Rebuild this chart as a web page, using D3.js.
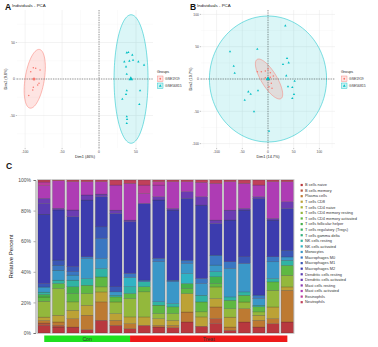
<!DOCTYPE html>
<html>
<head>
<meta charset="utf-8">
<script src="https://cdn.jsdelivr.net/npm/d3@7"></script>
<style>
  html, body { margin: 0; padding: 0; background: #fff; }
  svg { display: block; }
</style>
</head>
<body>
<script>
// ---- PCA data ----
const groupNames = ["GSE1919", "GSE56815"];
const groupColors = ["#F8766D", "#00BFC4"];

// panel A
const aRedX = [-88.9, -85.7, -92.4, -79.8, -81.2, -83.0, -88.9, -89.7, -95.1];
const aRedY = [15.4, 14.6, 10.0, 12.3, -5.9, -8.2, -11.4, -15.0, -22.7];
const aCyanX = [37.5, 39.6, 45.0, 34.2, 41.0, 46.0, 53.2, 60.9, 36.5, 37.5, 37.5, 55.5, 36.5, 31.5, 54.5, 37.5, 37.9, 37.5];
const aCyanY = [36.0, 36.6, 32.9, 23.7, 24.7, 26.0, 23.7, 19.2, 16.8, 6.8, -16.0, -16.0, -21.0, -27.4, -34.7, -51.6, -55.2, -60.7];
const aMeans = [[-88, 0], [43, 0]];
// ellipse: centre x, centre y, semi-axis a, semi-axis b, angle (deg)
const aEllipses = [[-87, 0.3, 40.7, 13, 81], [43.3, 0, 88, 23, 90]];

// panel B
const bRedX = [-20.8, -13.0, -5.2, 4.5, 10.3, 4.5, -5.2, 6.4, 7.8, 1.9, 0.0];
const bRedY = [11.3, 11.3, 12.4, 9.8, 4.6, 2.6, 2.0, -6.7, -14.4, -11.9, 15.5];
const bCyanX = [33.7, -73.9, -20.8, -66.7, -64.8, 37.0, 40.3, 29.2, 35.6, 51.9, 38.9, 47.3, 50.6, 47.3, -38.3, -33.7, -19.5, -45.3, -27.2, 2.0];
const bCyanY = [82.5, 42.3, 46.4, 20.1, 9.3, 32.0, 25.2, 22.7, 5.1, -3.1, -11.9, -12.8, -23.7, -29.9, -19.7, -23.2, -18.1, -32.5, -50.6, -80.5];
const bMeans = [[1, 0], [0, 0]];
const bEllipses = [[2, 0, 38.3, 14, -50.7], [0, 0, 114, 97.5, 0]];

// ---- immune cell fractions, 18 samples ----
const groups = ["Con", "Con", "Con", "Con", "Con", "Con", "Con",
  "Treat", "Treat", "Treat", "Treat", "Treat", "Treat", "Treat", "Treat", "Treat", "Treat", "Treat"];
const cellTypes = ["B cells naive", "B cells memory", "Plasma cells", "T cells CD8", "T cells CD4 naive",
  "T cells CD4 memory resting", "T cells CD4 memory activated", "T cells follicular helper",
  "T cells regulatory (Tregs)", "T cells gamma delta", "NK cells resting", "NK cells activated",
  "Monocytes", "Macrophages M0", "Macrophages M1", "Macrophages M2", "Dendritic cells resting",
  "Dendritic cells activated", "Mast cells resting", "Mast cells activated", "Eosinophils", "Neutrophils"];
const cellColors = ["#b8383e", "#b8543a", "#bd7a32", "#bca236", "#a9b236", "#93b83c", "#5fb842", "#45b04a",
  "#3cb062", "#35b07e", "#30b3a4", "#30b3c4", "#3a97c8", "#3a77c2", "#3a57b6", "#3c3cae", "#5a3cb2",
  "#6b3cb2", "#8a3cb4", "#ae3cb4", "#bc3c9c", "#c0405a"];

const bNaive   = [5.0, 3.9, 3.9, 2.2, 8.3, 5.0, 2.8, 5.0, 3.9, 3.5, 7.2, 4.4, 6.1, 1.7, 7.2, 3.9, 6.1, 7.2];
const bMemory  = [1.5, 1.1, 0, 0, 0, 0, 0, 0, 0, 0, 0, 0, 3.3, 0, 0, 0, 0, 0];
const plasma   = [1.7, 2.2, 5.5, 9.4, 12.0, 3.3, 3.3, 0, 1.1, 1.5, 6.5, 0, 7.6, 2.2, 8.7, 4.4, 3.3, 20.7];
const tCD8     = [2.2, 4.4, 5.5, 6.5, 6.5, 4.4, 4.4, 5.5, 4.4, 3.3, 12.0, 6.1, 5.5, 6.5, 0, 3.3, 7.6, 2.2];
const cd4Naive = [0, 0, 0, 0, 0, 0, 0, 0, 0, 0, 0, 0, 0, 0, 0, 0, 0, 0];
const cd4Rest  = [10.3, 17.5, 5.5, 7.6, 3.3, 7.6, 12.0, 16.4, 3.3, 4.4, 0, 3.3, 7.6, 5.5, 4.4, 2.2, 10.9, 7.6];
const cd4Act   = [2.8, 3.3, 5.5, 5.5, 6.5, 3.3, 3.3, 3.3, 5.5, 4.4, 3.3, 6.5, 2.2, 5.5, 4.4, 3.3, 5.5, 6.5];
const tfh      = [1.7, 0, 4.4, 0, 0, 0, 0, 0, 0, 0, 3.3, 0, 4.4, 0, 0, 0, 0, 0];
const tregs    = [0, 0, 0, 0, 0, 0, 0, 0, 0, 0, 0, 0, 0, 0, 0, 0, 0, 0];
const gammaD   = [0, 0, 0, 0, 0, 0, 0, 0, 0, 0, 0, 0, 0, 0, 0, 0, 0, 0];
const nkRest   = [1.5, 2.2, 4.4, 4.4, 5.5, 1.1, 4.4, 3.3, 2.2, 2.2, 0, 4.4, 3.3, 2.2, 2.2, 1.1, 2.2, 3.3];
const nkAct    = [0, 0, 0, 0, 0, 0, 6.1, 0, 0, 0, 6.5, 0, 0, 0, 0, 0, 0, 0];
const mono     = [3.3, 6.5, 3.3, 13.1, 6.5, 2.2, 0, 0, 26.2, 14.2, 6.5, 7.6, 4.4, 18.6, 18.6, 4.4, 10.9, 2.2];
const macM0    = [0, 3.3, 2.2, 1.1, 13.1, 0, 2.6, 1.1, 2.2, 1.1, 2.2, 3.3, 6.5, 4.4, 0, 2.2, 3.3, 0];
const macM1    = [2.2, 3.3, 3.3, 0, 7.6, 3.3, 0, 0, 0, 0, 0, 0, 0, 0, 4.4, 0, 0, 4.4];
const macM2    = [45.4, 32.8, 32.8, 37.1, 19.7, 48.0, 33.8, 50.2, 38.2, 45.9, 40.4, 48.0, 20.7, 27.3, 30.6, 63.3, 24.0, 27.3];
const dcRest   = [7.0, 0, 0, 0, 0, 0, 0, 0, 0, 0, 0, 0, 0, 0, 0, 0, 0, 0];
const dcAct    = [3.3, 1.1, 4.4, 3.3, 1.7, 2.2, 1.1, 0, 2.2, 1.1, 4.4, 5.5, 2.2, 6.5, 1.1, 1.1, 1.1, 4.4];
const mastRest = [0, 0, 0, 0, 0, 0, 0, 0, 0, 0, 0, 0, 0, 0, 0, 0, 0, 0];
const mastAct  = [8.3, 18.0, 18.6, 8.7, 8.1, 16.4, 24.0, 6.5, 7.6, 17.5, 6.5, 9.4, 24.0, 18.6, 16.4, 7.6, 24.0, 13.1];
const eosin    = [2.4, 0, 0, 0, 0, 0, 0, 5.5, 2.2, 0, 0, 0, 0, 0, 0, 0, 0, 0];
const neutro   = [1.3, 0.5, 1.1, 1.1, 1.1, 3.3, 2.2, 3.3, 1.1, 1.1, 1.1, 1.5, 2.2, 1.1, 2.2, 3.3, 1.1, 1.1];

const cellSeries = [bNaive, bMemory, plasma, tCD8, cd4Naive, cd4Rest, cd4Act, tfh, tregs, gammaD,
  nkRest, nkAct, mono, macM0, macM1, macM2, dcRest, dcAct, mastRest, mastAct, eosin, neutro];

const yTicksC = [0, 0.2, 0.4, 0.6, 0.8, 1];

// ---- svg ----
const W = 378, H = 347;
const FONT = "'Liberation Sans', Arial, sans-serif";
const svg = d3.select("body").append("svg")
  .attr("width", W).attr("height", H)
  .style("font-family", FONT);

function ellipsePath(sx, sy, e) {
  const [cx, cy, a, b, ang] = e;
  const r = ang * Math.PI / 180;
  const pts = d3.range(0, 361, 3).map(t => {
    const u = t * Math.PI / 180;
    const ux = a * Math.cos(u), uy = b * Math.sin(u);
    return [sx(cx + ux * Math.cos(r) - uy * Math.sin(r)), sy(cy + ux * Math.sin(r) + uy * Math.cos(r))];
  });
  return d3.line()(pts) + "Z";
}

const tri = s => d3.symbol().type(d3.symbolTriangle).size(s)();

function drawPCA(cfg) {
  const { id, x, y, xMajor, xMinor, yMajor, yMinor, redX, redY, cyanX, cyanY, means, ellipses } = cfg;
  const [x0, x1] = x.range(), [y1, y0] = y.range();
  const g = svg.append("g");

  g.append("clipPath").attr("id", "clip" + id)
    .append("rect").attr("x", x0).attr("y", y0).attr("width", x1 - x0).attr("height", y1 - y0);

  // grid
  const grid = g.append("g");
  grid.selectAll(".vmin").data(xMinor).join("line")
    .attr("x1", d => x(d)).attr("x2", d => x(d)).attr("y1", y0).attr("y2", y1)
    .attr("stroke", "#f2f2f2").attr("stroke-width", 0.3);
  grid.selectAll(".hmin").data(yMinor).join("line")
    .attr("y1", d => y(d)).attr("y2", d => y(d)).attr("x1", x0).attr("x2", x1)
    .attr("stroke", "#f2f2f2").attr("stroke-width", 0.3);
  grid.selectAll(".vmaj").data(xMajor).join("line")
    .attr("x1", d => x(d)).attr("x2", d => x(d)).attr("y1", y0).attr("y2", y1)
    .attr("stroke", "#e6e6e6").attr("stroke-width", 0.5);
  grid.selectAll(".hmaj").data(yMajor).join("line")
    .attr("y1", d => y(d)).attr("y2", d => y(d)).attr("x1", x0).attr("x2", x1)
    .attr("stroke", "#e6e6e6").attr("stroke-width", 0.5);

  const plot = g.append("g").attr("clip-path", `url(#clip${id})`);

  // ellipses (cyan below, red above)
  [1, 0].forEach(k => {
    plot.append("path")
      .attr("d", ellipsePath(x, y, ellipses[k]))
      .attr("fill", groupColors[k]).attr("fill-opacity", k ? 0.14 : 0.2)
      .attr("stroke", groupColors[k]).attr("stroke-width", 0.5);
  });

  // zero lines
  plot.append("line").attr("x1", x(0)).attr("x2", x(0)).attr("y1", y0).attr("y2", y1)
    .attr("stroke", "#222").attr("stroke-width", 0.45).attr("stroke-dasharray", "1.3,1.1");
  plot.append("line").attr("y1", y(0)).attr("y2", y(0)).attr("x1", x0).attr("x2", x1)
    .attr("stroke", "#222").attr("stroke-width", 0.45).attr("stroke-dasharray", "1.3,1.1");

  // points
  plot.selectAll(".rp").data(d3.zip(redX, redY)).join("circle")
    .attr("cx", d => x(d[0])).attr("cy", d => y(d[1])).attr("r", 0.75)
    .attr("fill", groupColors[0]);
  plot.selectAll(".cp").data(d3.zip(cyanX, cyanY)).join("path")
    .attr("d", tri(2.4)).attr("transform", d => `translate(${x(d[0])},${y(d[1])})`)
    .attr("fill", groupColors[1]);
  plot.append("circle").attr("cx", x(means[0][0])).attr("cy", y(means[0][1])).attr("r", 1.5)
    .attr("fill", groupColors[0]);
  plot.append("path").attr("d", tri(9)).attr("transform", `translate(${x(means[1][0])},${y(means[1][1])})`)
    .attr("fill", groupColors[1]);

  // axes ticks
  g.selectAll(".xt").data(xMajor.filter(d => x(d) >= x0 && x(d) <= x1)).join("text")
    .attr("x", d => x(d)).attr("y", y1 + 5.2).attr("text-anchor", "middle")
    .attr("font-size", 3.4).attr("fill", "#4d4d4d").text(d => d);
  g.selectAll(".xtk").data(xMajor).join("line")
    .attr("x1", d => x(d)).attr("x2", d => x(d)).attr("y1", y1).attr("y2", y1 + 1.2)
    .attr("stroke", "#333").attr("stroke-width", 0.3);
  g.selectAll(".yt").data(yMajor).join("text")
    .attr("x", x0 - 2).attr("y", d => y(d) + 1.2).attr("text-anchor", "end")
    .attr("font-size", 3.4).attr("fill", "#4d4d4d").text(d => d);
  g.selectAll(".ytk").data(yMajor).join("line")
    .attr("y1", d => y(d)).attr("y2", d => y(d)).attr("x1", x0 - 1.2).attr("x2", x0)
    .attr("stroke", "#333").attr("stroke-width", 0.3);

  // titles
  g.append("text").attr("x", (x0 + x1) / 2).attr("y", y1 + 10).attr("text-anchor", "middle")
    .attr("font-size", 3.8).attr("fill", "#222").text(cfg.xTitle);
  g.append("text").attr("transform", `translate(${cfg.yTitleX},${(y0 + y1) / 2}) rotate(-90)`)
    .attr("text-anchor", "middle").attr("font-size", 3.8).attr("fill", "#222").text(cfg.yTitle);
  g.append("text").attr("x", cfg.tagX).attr("y", 10).attr("font-size", 8.5).attr("font-weight", "bold")
    .attr("fill", "#111").text(cfg.tag);
  g.append("text").attr("x", cfg.tagX + 7).attr("y", 7).attr("font-size", 4.4).attr("fill", "#222")
    .text("Individuals - PCA");

  // legend
  const lg = g.append("g").attr("transform", `translate(${cfg.legX},0)`);
  lg.append("text").attr("x", 0).attr("y", 72.5).attr("font-size", 3.7).attr("fill", "#222").text("Groups");
  groupNames.forEach((name, k) => {
    const ky = 76 + k * 7;
    lg.append("rect").attr("x", 0.5).attr("y", ky).attr("width", 5.5).attr("height", 5.5)
      .attr("fill", groupColors[k]).attr("fill-opacity", 0.2)
      .attr("stroke", groupColors[k]).attr("stroke-width", 0.4);
    if (k === 0) {
      lg.append("circle").attr("cx", 3.25).attr("cy", ky + 2.75).attr("r", 0.9).attr("fill", groupColors[0]);
    } else {
      lg.append("path").attr("d", tri(3.5)).attr("transform", `translate(3.25,${ky + 3})`).attr("fill", groupColors[1]);
    }
    lg.append("text").attr("x", 8).attr("y", ky + 4).attr("font-size", 3.4).attr("fill", "#333").text(name);
  });
}

drawPCA({
  id: "A", tag: "A", tagX: 5, legX: 157, yTitleX: 7,
  x: d3.scaleLinear().domain([-111, 73]).range([17, 153]),
  y: d3.scaleLinear().domain([-94.5, 94.5]).range([148, 10]),
  xMajor: [-100, -50, 0, 50], xMinor: [-75, -25, 25],
  yMajor: [50, 0, -50], yMinor: [-75, -25, 25, 75],
  redX: aRedX, redY: aRedY, cyanX: aCyanX, cyanY: aCyanY, means: aMeans, ellipses: aEllipses,
  xTitle: "Dim1 (46%)", yTitle: "Dim2 (9.8%)"
});

drawPCA({
  id: "B", tag: "B", tagX: 190, legX: 341, yTitleX: 192,
  x: d3.scaleLinear().domain([-130.4, 130.4]).range([201, 335]),
  y: d3.scaleLinear().domain([-106.8, 106.8]).range([148, 10]),
  xMajor: [-100, -50, 0, 50, 100], xMinor: [-125, -75, -25, 25, 75, 125],
  yMajor: [100, 50, 0, -50, -100], yMinor: [-75, -25, 25, 75],
  redX: bRedX, redY: bRedY, cyanX: bCyanX, cyanY: bCyanY, means: bMeans, ellipses: bEllipses,
  xTitle: "Dim1 (14.7%)", yTitle: "Dim2 (10.7%)"
});

// ---- panel C: stacked bars ----
const samples = groups.map((g, i) => "S" + (i + 1));
const table = samples.map((s, i) => {
  const row = { sample: s };
  cellTypes.forEach((c, k) => { row[c] = cellSeries[k][i]; });
  return row;
});
const stacked = d3.stack().keys(cellTypes).offset(d3.stackOffsetExpand)(table);

const xC = d3.scaleBand().domain(samples).range([37.1, 294.5]).paddingInner(0.12).paddingOuter(0.06);
const yC = d3.scaleLinear().domain([0, 1]).range([333, 180]);
const color = d3.scaleOrdinal().domain(cellTypes).range(cellColors);

const gC = svg.append("g");
gC.append("text").attr("x", 6).attr("y", 169).attr("font-size", 8.5).attr("font-weight", "bold")
  .attr("fill", "#111").text("C");

gC.append("g").selectAll("g").data(stacked).join("g")
  .attr("fill", d => color(d.key))
  .selectAll("rect").data(d => d).join("rect")
  .attr("x", d => xC(d.data.sample))
  .attr("y", d => yC(d[1]))
  .attr("width", xC.bandwidth())
  .attr("height", d => Math.max(0, yC(d[0]) - yC(d[1])))
  .attr("stroke", "#2a2a2a").attr("stroke-width", 0.3).attr("stroke-opacity", 0.7);

// bar outline
gC.append("g").selectAll("rect").data(samples).join("rect")
  .attr("x", d => xC(d) - 0.4).attr("y", yC(1) - 0.4)
  .attr("width", xC.bandwidth() + 0.8).attr("height", yC(0) - yC(1) + 0.8)
  .attr("fill", "none").attr("stroke", "#c4c4c4").attr("stroke-width", 0.8);

// y axis
const yAxis = gC.append("g").attr("transform", "translate(35.5,0)")
  .call(d3.axisLeft(yC).tickValues(yTicksC).tickFormat(d3.format(".0%")).tickSize(2).tickPadding(2.5));
yAxis.select(".domain").attr("stroke", "#333").attr("stroke-width", 0.5);
yAxis.selectAll(".tick line").attr("stroke", "#333").attr("stroke-width", 0.4);
yAxis.selectAll(".tick text").attr("font-size", 5).attr("fill", "#4d4d4d").attr("font-family", FONT);

gC.append("text").attr("transform", `translate(13,${(yC(0) + yC(1)) / 2}) rotate(-90)`)
  .attr("text-anchor", "middle").attr("font-size", 6).attr("fill", "#222").text("Relative Percent");

// group annotation
const nCon = groups.filter(g => g === "Con").length;
const cx = i => xC(samples[i]) + xC.bandwidth() / 2;
const annot = [
  { name: "Con", fill: "#1fe01f", x0: cx(0), x1: cx(nCon - 1) },
  { name: "Treat", fill: "#ee1a1a", x0: cx(nCon - 1), x1: cx(samples.length - 1) }
];
gC.selectAll(".ann").data(annot).join("rect")
  .attr("x", d => d.x0).attr("y", 335.5).attr("width", d => d.x1 - d.x0).attr("height", 6.5)
  .attr("fill", d => d.fill);
gC.selectAll(".annt").data(annot).join("text")
  .attr("x", d => (d.x0 + d.x1) / 2).attr("y", 341).attr("text-anchor", "middle")
  .attr("font-size", 5.2).attr("fill", "#333").text(d => d.name);

// legend
const legC = gC.append("g").attr("transform", "translate(300,0)");
cellTypes.forEach((c, k) => {
  const ly = 185 + k * 5.58;
  legC.append("rect").attr("x", 0.6).attr("y", ly - 1.1).attr("width", 2.2).attr("height", 2.2)
    .attr("fill", color(c));
  legC.append("text").attr("x", 5).attr("y", ly + 1.3).attr("font-size", 3.9).attr("fill", "#333").text(c);
});
</script>
</body>
</html>
